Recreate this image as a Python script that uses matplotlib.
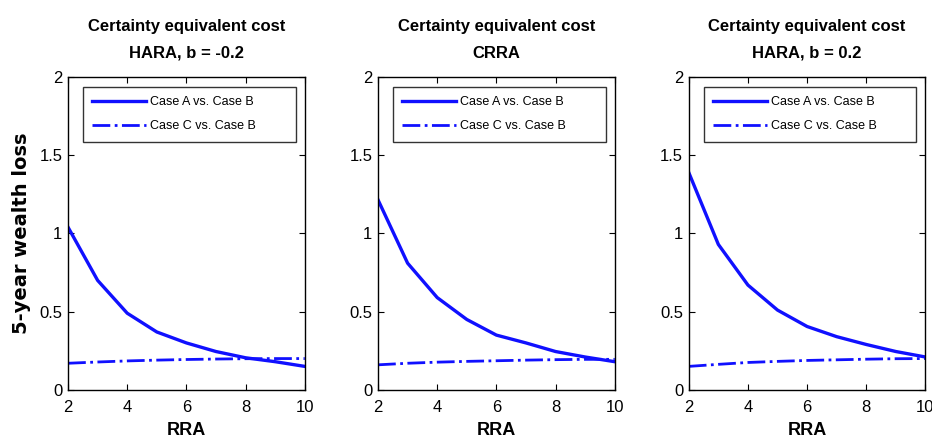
import matplotlib.pyplot as plt
import numpy as np

# RRA values on the x axis
rra = [2, 3, 4, 5, 6, 7, 8, 9, 10]

titles = ['Certainty equivalent cost\nHARA, b = -0.2',
          'Certainty equivalent cost\nCRRA',
          'Certainty equivalent cost\nHARA, b = 0.2']

# Case A vs. Case B
a_hara_neg = [1.04, 0.70, 0.49, 0.37, 0.30, 0.245, 0.205, 0.18, 0.15]
a_crra = [1.215, 0.81, 0.59, 0.45, 0.35, 0.30, 0.245, 0.21, 0.18]
a_hara_pos = [1.39, 0.93, 0.67, 0.51, 0.405, 0.34, 0.29, 0.245, 0.21]

# Case C vs. Case B
c_hara_neg = [0.17, 0.178, 0.185, 0.19, 0.194, 0.197, 0.199, 0.2, 0.2]
c_crra = [0.16, 0.17, 0.177, 0.182, 0.186, 0.19, 0.193, 0.195, 0.195]
c_hara_pos = [0.15, 0.163, 0.175, 0.182, 0.188, 0.192, 0.196, 0.199, 0.20]

case_a = [a_hara_neg, a_crra, a_hara_pos]
case_c = [c_hara_neg, c_crra, c_hara_pos]

plt.rcParams['font.family'] = ['Liberation Sans', 'DejaVu Sans']

fig = plt.figure(figsize=(9.32, 4.43), dpi=100)
lefts = [0.073, 0.4056, 0.739]
blue = '#1010ff'

for i in range(3):
    ax = fig.add_axes([lefts[i], 0.12, 0.254, 0.706])
    ax.plot(rra, case_a[i], '-', color=blue, lw=2.4, label='Case A vs. Case B')
    ax.plot(rra, case_c[i], '-.', color=blue, lw=2.0, label='Case C vs. Case B')
    ax.set_xlim(2, 10)
    ax.set_ylim(0, 2)
    ax.set_xticks([2, 4, 6, 8, 10])
    ax.set_yticks([0, 0.5, 1, 1.5, 2])
    ax.set_yticklabels(['0', '0.5', '1', '1.5', '2'])
    ax.tick_params(direction='in', top=True, right=True, length=4, labelsize=12)
    ax.tick_params(axis='x', pad=7)
    ax.tick_params(axis='y', pad=4)
    for s in ax.spines.values():
        s.set_linewidth(1.0)
    ax.set_title(titles[i], fontsize=12, fontweight='bold', pad=14, linespacing=2.0)
    ax.set_xlabel('RRA', fontsize=13, fontweight='bold', labelpad=5)
    if i == 0:
        ax.set_ylabel('5-year wealth loss', fontsize=14, fontweight='bold', labelpad=6,
                      family=['DejaVu Sans'])
    leg = ax.legend(loc='upper left', bbox_to_anchor=(0.063, 0.786, 0.899, 0.182),
                    mode='expand', fontsize=9, handlelength=4.3, frameon=True,
                    fancybox=False, edgecolor='black', borderpad=0.75,
                    labelspacing=0.95, handletextpad=0.3, borderaxespad=0)
    leg.get_frame().set_linewidth(1.0)

fig.savefig('out.png', dpi=100)
